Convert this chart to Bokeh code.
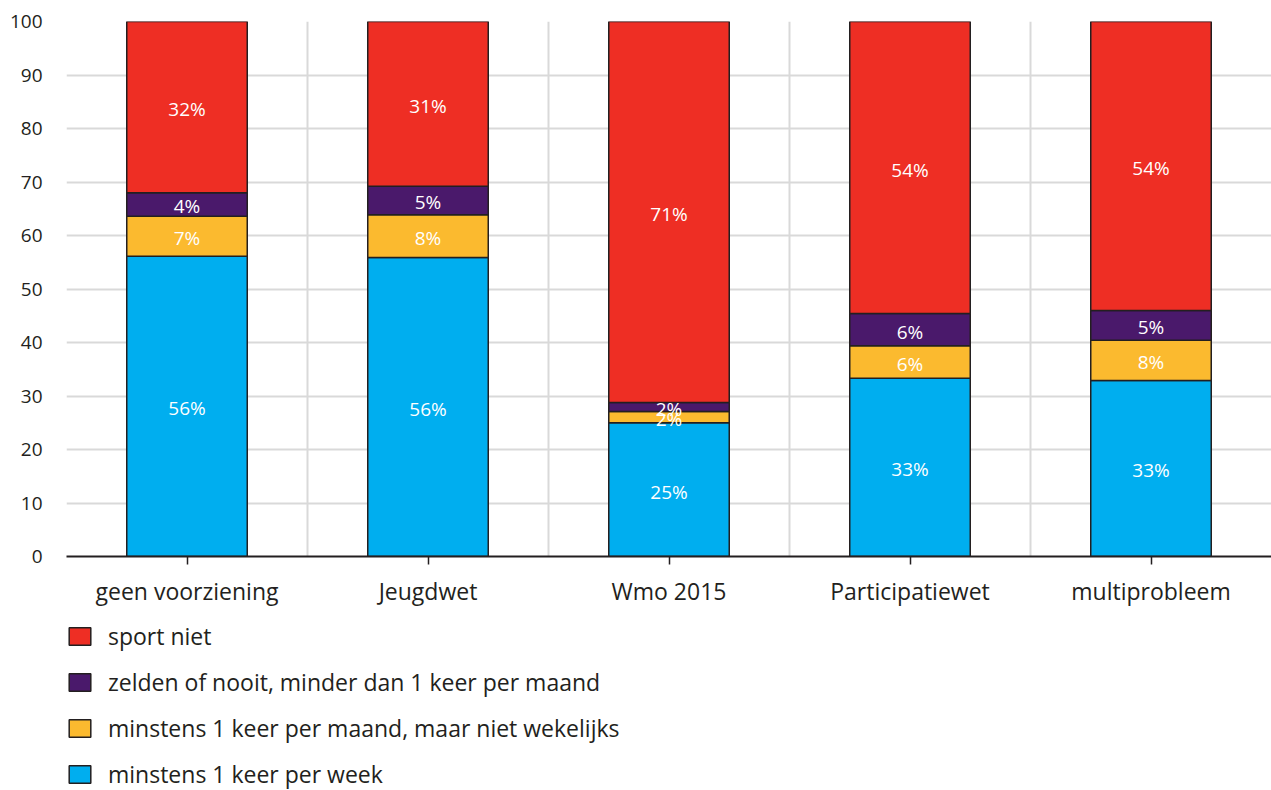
from bokeh.plotting import figure
from bokeh.models import ColumnDataSource, FixedTicker, Legend, LegendItem, LabelSet
from bokeh.layouts import column
from bokeh.core.properties import value
from bokeh.embed import file_html
from bokeh.resources import INLINE

categories = ["geen voorziening", "Jeugdwet", "Wmo 2015", "Participatiewet", "multiprobleem"]
series_names = ["minstens 1 keer per week", "minstens 1 keer per maand, maar niet wekelijks",
                "zelden of nooit, minder dan 1 keer per maand", "sport niet"]
week = [56.1, 55.9, 25.0, 33.3, 32.9]
maand = [7.5, 8.0, 2.1, 6.1, 7.5]
zelden = [4.4, 5.3, 1.7, 6.0, 5.6]
niet = [32.0, 30.8, 71.2, 54.6, 54.0]
label_week = ["56%", "56%", "25%", "33%", "33%"]
label_maand = ["7%", "8%", "2%", "6%", "8%"]
label_zelden = ["4%", "5%", "2%", "6%", "5%"]
label_niet = ["32%", "31%", "71%", "54%", "54%"]
colors = ["#00aeef", "#fbba2f", "#4a196b", "#ee2e24"]
y_ticks = [0, 10, 20, 30, 40, 50, 60, 70, 80, 90, 100]

FONT = "Open Sans"
TXT = "#231f20"

xs = [i + 0.5 for i in range(len(categories))]
keys = ["week", "maand", "zelden", "niet"]
data = dict(x=xs, week=week, maand=maand, zelden=zelden, niet=niet)
src = ColumnDataSource(data)

p = figure(width=1271, height=610, x_range=(0, 5), y_range=(0, 100),
           output_backend="svg", toolbar_location=None,
           min_border_left=66, min_border_right=0, min_border_top=21, min_border_bottom=54)
p.outline_line_color = None
p.background_fill_color = "white"

renderers = p.vbar_stack(keys, x="x", width=0.5, source=src, color=colors,
                         line_color=TXT, line_width=1.5)

# segment labels
series_vals = [week, maand, zelden, niet]
series_labels = [label_week, label_maand, label_zelden, label_niet]
lx, ly, lt = [], [], []
base = [0.0] * len(categories)
for vals, labs in zip(series_vals, series_labels):
    for i, v in enumerate(vals):
        lx.append(xs[i])
        ly.append(base[i] + v / 2)
        lt.append(labs[i])
        base[i] += v
lsrc = ColumnDataSource(dict(x=lx, y=ly, t=lt))
p.add_layout(LabelSet(x="x", y="y", text="t", source=lsrc, text_color="white",
                      text_font=value(FONT), text_font_size="19px", text_align="center",
                      text_baseline="middle", y_offset=-2))

# axes
p.yaxis.ticker = FixedTicker(ticks=y_ticks)
p.yaxis.axis_line_color = None
p.yaxis.major_tick_line_color = None
p.yaxis.minor_tick_line_color = None
p.yaxis.major_label_text_font = FONT
p.yaxis.major_label_text_font_size = "19px"
p.yaxis.major_label_text_color = TXT
p.yaxis.major_label_standoff = 18

p.xaxis.ticker = FixedTicker(ticks=xs)
p.xaxis.major_label_overrides = {x: c for x, c in zip(xs, categories)}
p.xaxis.axis_line_color = TXT
p.xaxis.axis_line_width = 2
p.xaxis.major_tick_line_color = TXT
p.xaxis.major_tick_line_width = 1.5
p.xaxis.major_tick_in = 0
p.xaxis.major_tick_out = 8
p.xaxis.minor_tick_line_color = None
p.xaxis.major_label_text_font = FONT
p.xaxis.major_label_text_font_size = "23px"
p.xaxis.major_label_text_color = TXT
p.xaxis.major_label_standoff = 10

p.xgrid.ticker = FixedTicker(ticks=[0, 1, 2, 3, 4, 5])
p.xgrid.grid_line_color = "#d9d9d9"
p.xgrid.grid_line_width = 2
p.ygrid.grid_line_color = "#d9d9d9"
p.ygrid.grid_line_width = 2

# legend figure (same series, hidden glyphs; only legend shown)
p2 = figure(width=1271, height=180, x_range=(0, 5), y_range=(0, 100),
            output_backend="svg", toolbar_location=None,
            min_border_left=0, min_border_right=0, min_border_top=0, min_border_bottom=0)
p2.axis.visible = False
p2.grid.visible = False
p2.outline_line_color = None
lrs = p2.vbar_stack(keys, x="x", width=0.5, source=src, color=colors,
                    line_color=TXT, line_width=1.5)
for r in lrs:
    r.visible = False

items = [LegendItem(label=series_names[i], renderers=[lrs[i]]) for i in [3, 2, 1, 0]]
legend = Legend(items=items, location=(0, 0), orientation="vertical",
                glyph_width=27, glyph_height=22, label_height=22, spacing=14,
                label_standoff=15, padding=0, margin=0,
                label_text_font=FONT, label_text_font_size="23px", label_text_color=TXT,
                inactive_fill_alpha=0, click_policy="none",
                border_line_color=None, background_fill_alpha=0)
p2.add_layout(legend, "center")

layout = column(p, p2, spacing=0)
open("out.html", "w").write(file_html(layout, INLINE))
